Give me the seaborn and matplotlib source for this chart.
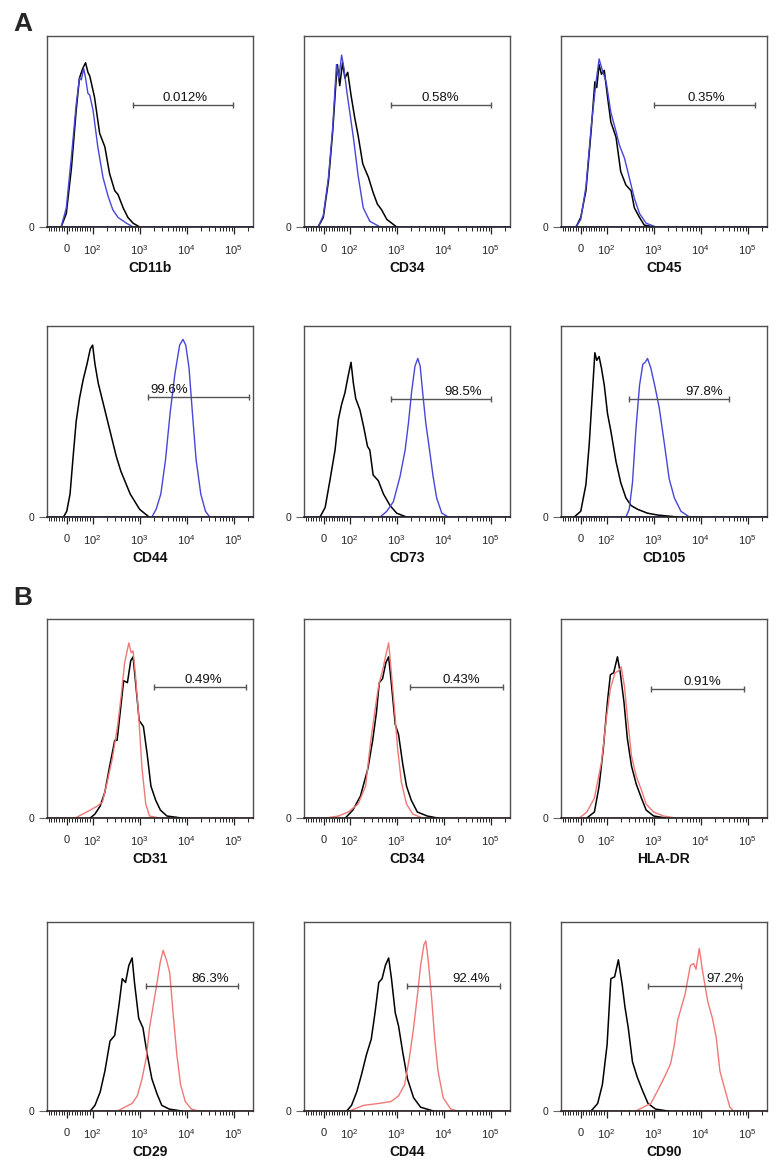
import numpy as np
import pandas as pd
import matplotlib
matplotlib.use("Agg")
import matplotlib.pyplot as plt
import seaborn as sns

# x values are positions on the biexponential axis in decades (0 sits at 1.45, 10^k at k)
# y values are event counts scaled to the box height

# ---- A: CD11b / CD34 / CD45 / CD44 / CD73 / CD105 (black = control, blue = stained)
cd11b_ctrl_x = [1.33, 1.44, 1.55, 1.65, 1.72, 1.79, 1.85, 1.90, 1.94, 2.04, 2.15, 2.26, 2.36, 2.47, 2.54, 2.65, 2.75, 2.86, 3.0]
cd11b_ctrl_y = [0, 0.07, 0.31, 0.61, 0.78, 0.83, 0.86, 0.81, 0.79, 0.68, 0.49, 0.42, 0.28, 0.19, 0.17, 0.10, 0.05, 0.02, 0]
cd11b_stain_x = [1.33, 1.44, 1.55, 1.65, 1.72, 1.76, 1.81, 1.85, 1.90, 1.94, 2.01, 2.11, 2.22, 2.33, 2.43, 2.54, 2.72, 2.86]
cd11b_stain_y = [0, 0.10, 0.37, 0.64, 0.78, 0.77, 0.83, 0.78, 0.70, 0.69, 0.61, 0.42, 0.26, 0.16, 0.09, 0.05, 0.02, 0]

cd34a_ctrl_x = [1.33, 1.44, 1.55, 1.64, 1.71, 1.74, 1.79, 1.85, 1.90, 1.96, 2.03, 2.11, 2.18, 2.28, 2.40, 2.50, 2.59, 2.68, 2.79, 3.0]
cd34a_ctrl_y = [0, 0.05, 0.24, 0.50, 0.76, 0.85, 0.74, 0.86, 0.78, 0.81, 0.69, 0.57, 0.48, 0.33, 0.26, 0.18, 0.12, 0.09, 0.04, 0]
cd34a_stain_x = [1.33, 1.44, 1.55, 1.64, 1.72, 1.77, 1.83, 1.88, 1.94, 2.01, 2.09, 2.18, 2.29, 2.43, 2.65]
cd34a_stain_y = [0, 0.06, 0.26, 0.52, 0.85, 0.78, 0.90, 0.83, 0.71, 0.59, 0.45, 0.27, 0.10, 0.03, 0]

cd45_ctrl_x = [1.35, 1.45, 1.56, 1.67, 1.75, 1.79, 1.84, 1.89, 1.95, 2.02, 2.09, 2.20, 2.30, 2.41, 2.52, 2.59, 2.70, 2.80, 3.01]
cd45_ctrl_y = [0, 0.05, 0.19, 0.50, 0.76, 0.73, 0.85, 0.80, 0.82, 0.68, 0.55, 0.47, 0.29, 0.22, 0.19, 0.10, 0.05, 0.01, 0]
cd45_stain_x = [1.35, 1.45, 1.56, 1.67, 1.77, 1.84, 1.91, 1.99, 2.09, 2.20, 2.27, 2.38, 2.48, 2.59, 2.70, 2.84, 3.05]
cd45_stain_y = [0, 0.04, 0.21, 0.52, 0.75, 0.88, 0.82, 0.76, 0.60, 0.50, 0.43, 0.36, 0.26, 0.15, 0.07, 0.02, 0]

cd44a_ctrl_x = [1.38, 1.45, 1.52, 1.58, 1.65, 1.72, 1.80, 1.88, 1.95, 2.00, 2.05, 2.12, 2.20, 2.30, 2.40, 2.50, 2.60, 2.70, 2.80, 2.90, 3.00, 3.10, 3.20]
cd44a_ctrl_y = [0, 0.03, 0.12, 0.30, 0.50, 0.62, 0.72, 0.80, 0.88, 0.90, 0.80, 0.70, 0.62, 0.52, 0.42, 0.32, 0.24, 0.18, 0.12, 0.08, 0.04, 0.02, 0]
cd44a_stain_x = [3.26, 3.35, 3.45, 3.55, 3.65, 3.75, 3.85, 3.92, 3.98, 4.05, 4.12, 4.20, 4.30, 4.40, 4.49]
cd44a_stain_y = [0, 0.04, 0.12, 0.30, 0.55, 0.75, 0.90, 0.93, 0.90, 0.78, 0.55, 0.30, 0.12, 0.03, 0]

cd73_ctrl_x = [1.37, 1.48, 1.58, 1.69, 1.76, 1.83, 1.90, 1.97, 2.03, 2.08, 2.13, 2.22, 2.30, 2.38, 2.43, 2.50, 2.61, 2.72, 2.86, 3.0, 3.21]
cd73_ctrl_y = [0, 0.05, 0.19, 0.35, 0.51, 0.59, 0.65, 0.74, 0.81, 0.70, 0.62, 0.56, 0.47, 0.37, 0.35, 0.22, 0.19, 0.12, 0.06, 0.02, 0]
cd73_stain_x = [2.65, 2.79, 2.93, 3.07, 3.18, 3.25, 3.32, 3.39, 3.45, 3.50, 3.55, 3.62, 3.70, 3.77, 3.85, 3.96, 4.10]
cd73_stain_y = [0, 0.03, 0.08, 0.21, 0.35, 0.49, 0.66, 0.79, 0.83, 0.79, 0.66, 0.49, 0.35, 0.22, 0.10, 0.02, 0]

cd105_ctrl_x = [1.31, 1.45, 1.56, 1.63, 1.70, 1.75, 1.79, 1.84, 1.89, 1.95, 2.02, 2.09, 2.20, 2.30, 2.41, 2.52, 2.66, 2.87, 3.09, 3.51]
cd105_ctrl_y = [0, 0.03, 0.17, 0.38, 0.66, 0.86, 0.82, 0.84, 0.78, 0.69, 0.54, 0.45, 0.29, 0.18, 0.10, 0.06, 0.04, 0.02, 0.01, 0]
cd105_stain_x = [2.41, 2.48, 2.55, 2.62, 2.70, 2.77, 2.82, 2.87, 2.94, 3.03, 3.12, 3.23, 3.33, 3.44, 3.58, 3.76]
cd105_stain_y = [0, 0.04, 0.18, 0.45, 0.69, 0.80, 0.81, 0.83, 0.78, 0.68, 0.57, 0.38, 0.20, 0.10, 0.03, 0]

# ---- B: CD31 / CD34 / HLA-DR / CD29 / CD44 / CD90 (black = control, red = stained)
cd31_ctrl_x = [1.95, 2.05, 2.16, 2.26, 2.37, 2.47, 2.52, 2.60, 2.66, 2.74, 2.81, 2.86, 2.91, 2.99, 3.08, 3.16, 3.24, 3.34, 3.44, 3.58, 3.89]
cd31_ctrl_y = [0, 0.02, 0.06, 0.13, 0.27, 0.39, 0.39, 0.56, 0.69, 0.68, 0.79, 0.81, 0.69, 0.49, 0.46, 0.32, 0.16, 0.09, 0.04, 0.01, 0]
cd31_stain_x = [1.63, 1.79, 1.95, 2.10, 2.21, 2.31, 2.42, 2.53, 2.61, 2.68, 2.77, 2.82, 2.86, 2.91, 2.98, 3.05, 3.13, 3.21, 3.42]
cd31_stain_y = [0, 0.02, 0.04, 0.06, 0.08, 0.18, 0.30, 0.46, 0.62, 0.78, 0.88, 0.83, 0.84, 0.72, 0.51, 0.25, 0.07, 0.01, 0]

cd34b_ctrl_x = [1.91, 2.07, 2.23, 2.39, 2.49, 2.57, 2.63, 2.70, 2.77, 2.83, 2.89, 2.97, 3.04, 3.13, 3.21, 3.31, 3.44, 3.65, 3.87]
cd34b_ctrl_y = [0, 0.04, 0.11, 0.25, 0.39, 0.53, 0.68, 0.70, 0.78, 0.81, 0.67, 0.47, 0.42, 0.27, 0.16, 0.09, 0.03, 0.01, 0]
cd34b_stain_x = [1.50, 1.76, 1.97, 2.18, 2.34, 2.44, 2.55, 2.62, 2.70, 2.78, 2.83, 2.88, 2.95, 3.02, 3.10, 3.21, 3.34, 3.55]
cd34b_stain_y = [0, 0.01, 0.03, 0.07, 0.16, 0.37, 0.56, 0.67, 0.74, 0.83, 0.88, 0.75, 0.56, 0.35, 0.18, 0.07, 0.02, 0]

hladr_ctrl_x = [1.58, 1.74, 1.84, 1.93, 2.02, 2.08, 2.15, 2.23, 2.29, 2.37, 2.44, 2.53, 2.63, 2.74, 2.84, 3.00, 3.26]
hladr_ctrl_y = [0, 0.03, 0.16, 0.35, 0.59, 0.72, 0.73, 0.81, 0.73, 0.58, 0.40, 0.26, 0.17, 0.10, 0.04, 0.01, 0]
hladr_stain_x = [1.42, 1.58, 1.74, 1.89, 2.00, 2.08, 2.18, 2.26, 2.31, 2.38, 2.44, 2.53, 2.63, 2.74, 2.84, 3.00, 3.21, 3.47]
hladr_stain_y = [0, 0.03, 0.10, 0.28, 0.51, 0.65, 0.73, 0.74, 0.76, 0.66, 0.51, 0.31, 0.21, 0.14, 0.07, 0.03, 0.01, 0]

cd29_ctrl_x = [1.95, 2.05, 2.16, 2.26, 2.37, 2.47, 2.56, 2.63, 2.70, 2.77, 2.84, 2.89, 2.98, 3.07, 3.16, 3.26, 3.37, 3.47, 3.63, 3.89]
cd29_ctrl_y = [0, 0.03, 0.10, 0.21, 0.37, 0.40, 0.56, 0.70, 0.68, 0.77, 0.81, 0.68, 0.49, 0.44, 0.30, 0.17, 0.09, 0.03, 0.01, 0]
cd29_stain_x = [2.53, 2.68, 2.84, 2.95, 3.05, 3.14, 3.21, 3.29, 3.37, 3.44, 3.50, 3.58, 3.64, 3.71, 3.79, 3.87, 3.97, 4.10, 4.26]
cd29_stain_y = [0, 0.02, 0.04, 0.08, 0.17, 0.28, 0.44, 0.56, 0.68, 0.79, 0.85, 0.79, 0.73, 0.52, 0.30, 0.14, 0.05, 0.01, 0]

cd44b_ctrl_x = [1.94, 2.04, 2.15, 2.25, 2.36, 2.46, 2.54, 2.62, 2.69, 2.76, 2.83, 2.89, 2.97, 3.04, 3.13, 3.23, 3.36, 3.51, 3.78]
cd44b_ctrl_y = [0, 0.03, 0.10, 0.19, 0.30, 0.38, 0.52, 0.68, 0.70, 0.77, 0.81, 0.70, 0.52, 0.45, 0.31, 0.17, 0.07, 0.02, 0]
cd44b_stain_x = [1.99, 2.30, 2.62, 2.88, 3.04, 3.17, 3.27, 3.36, 3.44, 3.51, 3.58, 3.62, 3.67, 3.74, 3.81, 3.88, 3.99, 4.15, 4.31]
cd44b_stain_y = [0, 0.03, 0.04, 0.05, 0.08, 0.14, 0.28, 0.44, 0.61, 0.77, 0.88, 0.90, 0.80, 0.61, 0.38, 0.21, 0.07, 0.01, 0]

cd90_ctrl_x = [1.67, 1.81, 1.91, 2.01, 2.09, 2.17, 2.25, 2.33, 2.39, 2.46, 2.55, 2.65, 2.76, 2.88, 3.04, 3.30]
cd90_ctrl_y = [0, 0.04, 0.14, 0.35, 0.70, 0.71, 0.80, 0.67, 0.55, 0.44, 0.26, 0.18, 0.11, 0.04, 0.01, 0]
cd90_stain_x = [2.62, 2.78, 2.94, 3.09, 3.25, 3.36, 3.44, 3.51, 3.59, 3.67, 3.78, 3.85, 3.90, 3.97, 4.04, 4.15, 4.25, 4.33, 4.41, 4.52, 4.62, 4.70]
cd90_stain_y = [0, 0.02, 0.04, 0.11, 0.19, 0.25, 0.35, 0.48, 0.55, 0.62, 0.77, 0.78, 0.75, 0.86, 0.74, 0.58, 0.49, 0.39, 0.21, 0.11, 0.02, 0]

# gate bars: low end, high end, height, label position, label
markers = ['CD11b', 'CD34', 'CD45', 'CD44', 'CD73', 'CD105',
           'CD31', 'CD34', 'HLA-DR', 'CD29', 'CD44', 'CD90']
gate_lo = [2.86, 2.88, 3.01, 3.17, 2.88, 2.48, 3.31, 3.29, 2.95, 3.14, 3.23, 2.88]
gate_hi = [4.99, 5.01, 5.16, 5.32, 5.01, 4.61, 5.27, 5.26, 4.93, 5.10, 5.20, 4.86]
gate_h = [0.64, 0.64, 0.64, 0.63, 0.62, 0.62, 0.66, 0.66, 0.65, 0.66, 0.66, 0.66]
gate_tx = [3.96, 3.92, 4.11, 3.62, 4.42, 4.08, 4.35, 4.37, 4.03, 4.49, 4.58, 4.52]
gate_pct = ['0.012%', '0.58%', '0.35%', '99.6%', '98.5%', '97.8%',
            '0.49%', '0.43%', '0.91%', '86.3%', '92.4%', '97.2%']

tick_pos = [1.45, 2, 3, 4, 5]
tick_lab = ['0', '$10^{2}$', '$10^{3}$', '$10^{4}$', '$10^{5}$']

ctrl = [(cd11b_ctrl_x, cd11b_ctrl_y), (cd34a_ctrl_x, cd34a_ctrl_y), (cd45_ctrl_x, cd45_ctrl_y),
        (cd44a_ctrl_x, cd44a_ctrl_y), (cd73_ctrl_x, cd73_ctrl_y), (cd105_ctrl_x, cd105_ctrl_y),
        (cd31_ctrl_x, cd31_ctrl_y), (cd34b_ctrl_x, cd34b_ctrl_y), (hladr_ctrl_x, hladr_ctrl_y),
        (cd29_ctrl_x, cd29_ctrl_y), (cd44b_ctrl_x, cd44b_ctrl_y), (cd90_ctrl_x, cd90_ctrl_y)]
stain = [(cd11b_stain_x, cd11b_stain_y), (cd34a_stain_x, cd34a_stain_y), (cd45_stain_x, cd45_stain_y),
         (cd44a_stain_x, cd44a_stain_y), (cd73_stain_x, cd73_stain_y), (cd105_stain_x, cd105_stain_y),
         (cd31_stain_x, cd31_stain_y), (cd34b_stain_x, cd34b_stain_y), (hladr_stain_x, hladr_stain_y),
         (cd29_stain_x, cd29_stain_y), (cd44b_stain_x, cd44b_stain_y), (cd90_stain_x, cd90_stain_y)]

#style
sns.set_theme(style="white")
plt.rcParams['font.family'] = ['Liberation Sans', 'DejaVu Sans']
plt.rcParams['mathtext.fontset'] = 'custom'
plt.rcParams['mathtext.rm'] = 'Liberation Sans'
plt.rcParams['mathtext.default'] = 'regular'

W, H = 781, 1167
fig = plt.figure(figsize=(W / 100, H / 100), dpi=100)

col_left = [47, 304, 561]
box_w = 206
rows = [(36, 227), (326, 517), (619, 818), (922, 1111)]
xlo, xhi = 1.03, 5.41
BLUE = '#4646d8'
RED = '#f07878'

# minor ticks: dense linear part below 10^2, log spacing above
minor = [1.45 + 0.55 * v / 100 for v in range(-80, 100, 10) if v != 0]
minor = [m for m in minor if m > xlo]
for e in range(2, 6):
    for k in range(2, 10):
        p = np.log10(k * 10 ** e)
        if p < xhi:
            minor.append(p)

for i in range(12):
    r, c = i // 3, i % 3
    top, bot = rows[r]
    ax = fig.add_axes([col_left[c] / W, 1 - bot / H, box_w / W, (bot - top) / H])
    color = BLUE if i < 6 else RED

    sns.lineplot(x=ctrl[i][0], y=ctrl[i][1], ax=ax, color='black', lw=1.1, sort=False, estimator=None)
    sns.lineplot(x=stain[i][0], y=stain[i][1], ax=ax, color=color, lw=1.0, sort=False, estimator=None)
    ax.axhline(0, color=color, lw=1.2, zorder=1)

    ax.set_xlim(xlo, xhi)
    ax.set_ylim(0, 1)

    # gate bar with end caps
    ax.plot([gate_lo[i], gate_hi[i]], [gate_h[i], gate_h[i]], color='#555555', lw=1)
    ax.plot([gate_lo[i], gate_hi[i]], [gate_h[i], gate_h[i]], ls='none', marker='|',
            ms=5, mew=1, color='#555555')
    ax.annotate(gate_pct[i], (gate_tx[i], gate_h[i]), xytext=(0, 1), textcoords='offset pixels',
                ha='center', va='bottom', fontsize=9.5, color='#111111')

    ax.set_xticks(tick_pos)
    ax.set_xticklabels(tick_lab)
    ax.set_xticks(minor, minor=True)
    ax.set_yticks([0])
    ax.set_yticklabels(['0'])
    ax.tick_params(axis='x', which='major', direction='out', length=5, width=0.9,
                   color='#222222', labelsize=8, pad=7, bottom=True)
    ax.tick_params(axis='x', which='minor', direction='out', length=3, width=0.7,
                   color='#222222', bottom=True)
    ax.tick_params(axis='y', which='major', direction='out', length=6, width=0.8,
                   color='#666666', labelsize=7.5, pad=3, left=True)
    for s in ['top', 'right', 'left']:
        ax.spines[s].set_color('#505050')
        ax.spines[s].set_linewidth(1.0)
    ax.spines['bottom'].set_color('#222222')
    ax.spines['bottom'].set_linewidth(1.2)
    ax.set_xlabel('')
    ax.set_ylabel('')

    ax.annotate(markers[i], (0.5, 0), xycoords='axes fraction', xytext=(0, -41),
                textcoords='offset pixels', ha='center', va='center', fontsize=10,
                fontweight='bold', color='#111111')

fig.text(13 / W, 1 - 12 / H, 'A', fontsize=19, fontweight='bold', ha='left', va='top')
fig.text(13 / W, 1 - 586 / H, 'B', fontsize=19, fontweight='bold', ha='left', va='top')

fig.savefig('out.png', dpi=100)
